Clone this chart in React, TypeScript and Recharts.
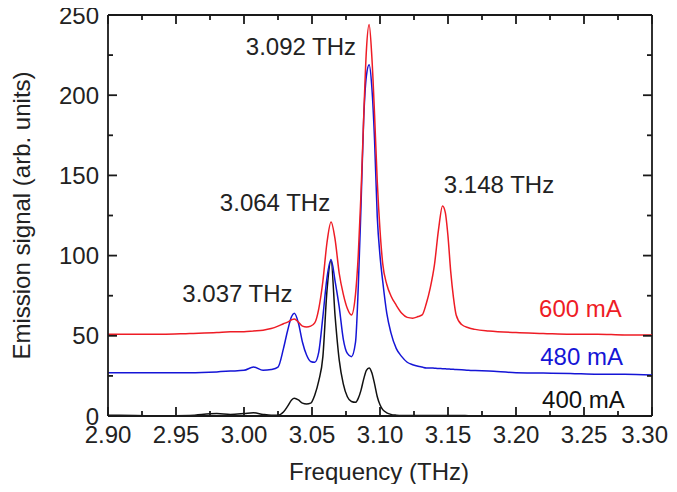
import { LineChart, Line, XAxis, YAxis, ReferenceDot, ReferenceLine, Label } from "recharts";

// spectra (frequency in THz, signal in arb. units)
const frequency = [
  2.9, 2.92, 2.94, 2.96, 2.98, 2.99, 3.0, 3.007, 3.014, 3.02, 3.025, 3.029,
  3.032, 3.035, 3.037, 3.04, 3.043, 3.046, 3.049, 3.052, 3.055, 3.058, 3.061,
  3.064, 3.067, 3.07, 3.073, 3.076, 3.079, 3.082, 3.084, 3.086, 3.088, 3.09,
  3.092, 3.094, 3.096, 3.098, 3.1, 3.102, 3.105, 3.108, 3.112, 3.116, 3.12,
  3.124, 3.128, 3.131, 3.134, 3.137, 3.14, 3.143, 3.146, 3.148, 3.15, 3.152,
  3.154, 3.156, 3.16, 3.165, 3.17, 3.18, 3.2, 3.22, 3.24, 3.26, 3.28, 3.3,
];

const signal600 = [
  51, 51, 51, 51.5, 52, 52.5, 52.5, 53, 53.5, 54.5, 56, 57.5,
  58.5, 60, 60.5, 58.5, 56, 55.5, 56, 58, 67, 84, 108,
  121, 110, 89, 76, 67, 63, 76, 100, 138, 186, 228,
  244, 224, 188, 146, 116, 95, 82, 75, 69, 64, 61.5,
  61, 62, 63, 70, 80, 94, 116, 131, 127, 112, 90,
  74, 63, 57, 55, 54, 53, 52, 51.5, 51, 51, 50.5, 50.5,
];

const signal480 = [
  27, 27, 27, 27, 27.5, 28, 28.5, 30.5, 28.5, 29, 30.5, 42,
  53, 62, 64, 58, 46, 38, 34, 33.5, 40, 62, 86,
  97.5, 84, 68, 48, 39, 37, 46, 80, 130, 185, 212,
  219, 205, 172, 124, 100, 84, 64, 52, 42, 37, 33.5,
  32, 31, 30.5, 30, 30, 29.8, 29.6, 29.5, 29.4, 29.3, 29.2,
  29.1, 29, 28.8, 28.5, 28.3, 28, 27, 26.8, 26.5, 26, 26, 25.5,
];

const signal400 = [
  0.5, 0.3, 0, 0.3, 1.5, 1, 1.5, 2, 1, 0.5, 0.5, 2.5,
  6, 10, 11, 10, 8, 7.5, 8, 13, 22, 37, 78,
  97, 62, 35, 20, 12, 9, 8.5, 11, 16, 23, 28.5,
  30, 27, 20, 12, 7, 4, 2, 1, 0.5, 0.3, 0.3,
  0.3, 0.3, 0.3, 0.3, 0.3, 0.3, 0.3, 0.3, 0.3, 0.3, 0.3,
  0.3, 0.3, 0.3, 0.2, 0.2, 0.2, 0.1, 0.1, 0.1, 0, 0, 0,
];

const xTicks = [
  2.9, 2.925, 2.95, 2.975, 3.0, 3.025, 3.05, 3.075, 3.1, 3.125, 3.15, 3.175,
  3.2, 3.225, 3.25, 3.275, 3.3,
];
const yTicks = [0, 25, 50, 75, 100, 125, 150, 175, 200, 225, 250];

const peakLabels = ["3.037 THz", "3.064 THz", "3.092 THz", "3.148 THz"];
const peakLabelFreq = [2.9952, 3.0228, 3.0419, 3.1875];
const peakLabelSignal = [71, 127.8, 225, 139];

const currentLabels = ["600 mA", "480 mA", "400 mA"];
const currentLabelFreq = [3.2474, 3.2482, 3.2496];
const currentLabelSignal = [61.7, 31.8, 5];

const RED = "#ee1c25";
const BLUE = "#1515d6";
const BLACK = "#111111";
const currentColors = [RED, BLUE, BLACK];
const FONT = "'Liberation Sans', Arial, sans-serif";
const AXIS = "#1a1a1a";
const AXIS_W = 1.8;

const X_MIN = 2.9;
const X_MAX = 3.3;
const Y_MIN = 0;
const Y_MAX = 250;
const EPS = 1e-6;

const data = frequency.map((f, i) => ({
  f,
  s600: signal600[i],
  s480: signal480[i],
  s400: signal400[i],
}));

const isMajorX = (v: number) => Math.abs(v * 20 - Math.round(v * 20)) < 1e-6;
const isMajorY = (v: number) => v % 50 === 0;
const clamp = (v: number, lo: number, hi: number) => Math.min(Math.max(v, lo + EPS), hi - EPS);

// bottom axis: inward tick + label (last label kept inside the page)
const BottomTick = (props: any) => {
  const { x, y, payload } = props;
  const v = payload.value;
  const major = isMajorX(v);
  const last = Math.abs(v - X_MAX) < 1e-9;
  return (
    <g>
      <path d={`M${x},${y}v${major ? -9 : -5}`} stroke={AXIS} strokeWidth={AXIS_W} fill="none" />
      {major && (
        <text
          x={last ? x + 16 : x}
          y={y + 27}
          textAnchor={last ? "end" : "middle"}
          fontSize={24}
          fill="#222"
          fontFamily={FONT}
        >
          {v.toFixed(2)}
        </text>
      )}
    </g>
  );
};

const LeftTick = (props: any) => {
  const { x, y, payload } = props;
  const major = isMajorY(payload.value);
  return (
    <g>
      <path d={`M${x},${y}h${major ? 9 : 5}`} stroke={AXIS} strokeWidth={AXIS_W} fill="none" />
      {major && (
        <text x={x - 9} y={y + 8.5} textAnchor="end" fontSize={24} fill="#222" fontFamily={FONT}>
          {payload.value}
        </text>
      )}
    </g>
  );
};

const textShape = (text: string, color: string) => (props: any) => (
  <text x={props.cx} y={props.cy} textAnchor="middle" fontSize={24} fill={color} fontFamily={FONT}>
    {text}
  </text>
);

const tickShape = (dx: number, dy: number) => (props: any) => (
  <path d={`M${props.cx},${props.cy}l${dx},${dy}`} stroke={AXIS} strokeWidth={AXIS_W} fill="none" />
);

const App = () => {
  // mirrored ticks on the top and right edges of the frame
  const topTicks = xTicks.map((t) => (
    <ReferenceDot
      key={`xt${t}`}
      x={clamp(t, X_MIN, X_MAX)}
      y={Y_MAX - EPS}
      r={0}
      shape={tickShape(0, isMajorX(t) ? 9 : 5)}
    />
  ));
  const rightTicks = yTicks.map((t) => (
    <ReferenceDot
      key={`yr${t}`}
      x={X_MAX - EPS}
      y={clamp(t, Y_MIN, Y_MAX)}
      r={0}
      shape={tickShape(isMajorY(t) ? -9 : -5, 0)}
    />
  ));

  return (
    <div style={{ margin: "-8px 0 -8px -8px" }}>
      <LineChart
        width={677}
        height={492}
        data={data}
        margin={{ top: 15, right: 25, bottom: 0, left: 0 }}
      >
        <XAxis
          dataKey="f"
          type="number"
          domain={[X_MIN, X_MAX]}
          allowDataOverflow
          ticks={xTicks}
          interval={0}
          tickSize={0}
          tickMargin={0}
          tickLine={false}
          tick={BottomTick}
          height={76}
          axisLine={{ stroke: AXIS, strokeWidth: AXIS_W }}
        >
          <Label
            content={(p: any) => (
              <text
                x={p.viewBox.x + p.viewBox.width / 2 - 1}
                y={p.viewBox.y + 64}
                textAnchor="middle"
                fontSize={24}
                fill="#222"
                fontFamily={FONT}
              >
                Frequency (THz)
              </text>
            )}
          />
        </XAxis>
        <YAxis
          type="number"
          domain={[Y_MIN, Y_MAX]}
          allowDataOverflow
          ticks={yTicks}
          interval={0}
          tickSize={0}
          tickMargin={0}
          tickLine={false}
          tick={LeftTick}
          width={108}
          axisLine={{ stroke: AXIS, strokeWidth: AXIS_W }}
        >
          <Label
            content={(p: any) => {
              const cy = p.viewBox.y + p.viewBox.height / 2;
              return (
                <text
                  x={30}
                  y={cy}
                  transform={`rotate(-90, 30, ${cy})`}
                  textAnchor="middle"
                  fontSize={24}
                  fill="#222"
                  fontFamily={FONT}
                >
                  Emission signal (arb. units)
                </text>
              );
            }}
          />
        </YAxis>
        {/* top and right edges of the frame */}
        <ReferenceLine y={Y_MAX} stroke={AXIS} strokeWidth={AXIS_W} />
        <ReferenceLine x={X_MAX - EPS} stroke={AXIS} strokeWidth={AXIS_W} />
        {topTicks}
        {rightTicks}
        <Line type="monotone" dataKey="s400" stroke={BLACK} strokeWidth={1.5} dot={false} isAnimationActive={false} />
        <Line type="monotone" dataKey="s480" stroke={BLUE} strokeWidth={1.5} dot={false} isAnimationActive={false} />
        <Line type="monotone" dataKey="s600" stroke={RED} strokeWidth={1.5} dot={false} isAnimationActive={false} />
        {peakLabels.map((t, i) => (
          <ReferenceDot key={t} x={peakLabelFreq[i]} y={peakLabelSignal[i]} r={0} shape={textShape(t, "#222")} />
        ))}
        {currentLabels.map((t, i) => (
          <ReferenceDot
            key={t}
            x={currentLabelFreq[i]}
            y={currentLabelSignal[i]}
            r={0}
            shape={textShape(t, currentColors[i])}
          />
        ))}
      </LineChart>
    </div>
  );
};

export default App;
